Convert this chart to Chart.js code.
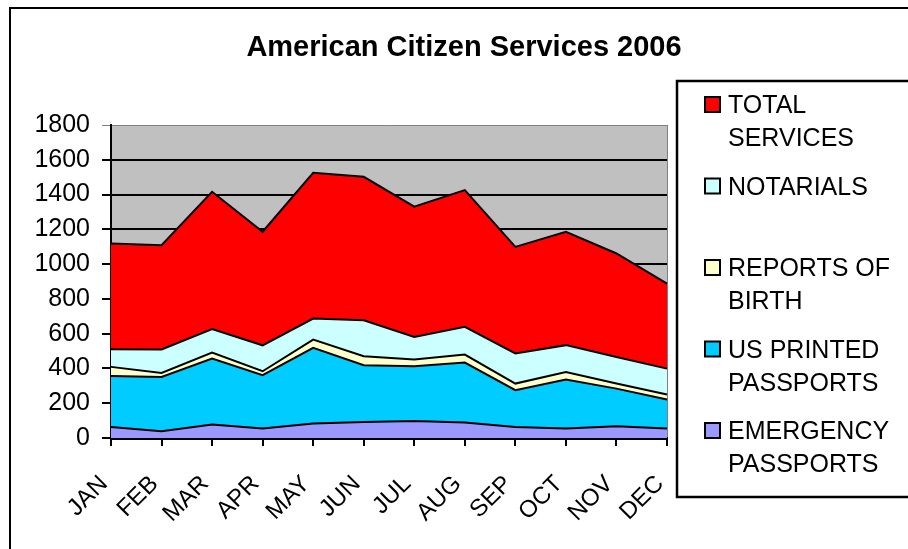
<!DOCTYPE html>
<html>
<head>
<meta charset="utf-8">
<title>American Citizen Services 2006</title>
<script src="https://cdn.jsdelivr.net/npm/chart.js@4.4.1/dist/chart.umd.min.js"></script>
<style>
  html, body { margin: 0; padding: 0; background: #fff; }
  #wrap { width: 908px; height: 549px; }
</style>
</head>
<body>
<div id="wrap"><canvas id="acsChart" width="908" height="549"></canvas></div>
<script>
// months along the bottom
const months = ['JAN', 'FEB', 'MAR', 'APR', 'MAY', 'JUN', 'JUL', 'AUG', 'SEP', 'OCT', 'NOV', 'DEC'];

// stacked layers, bottom to top (thickness of each band)
const emergencyPassports = [63, 39, 77, 54, 83, 92, 98, 89, 63, 54, 67, 54];
const usPrintedPassports = [294, 312, 380, 307, 435, 326, 315, 345, 212, 282, 217, 167];
const reportsOfBirth = [52, 23, 34, 23, 48, 52, 38, 46, 38, 44, 29, 29];
const notarials = [101, 135, 135, 149, 121, 207, 130, 159, 173, 154, 153, 149];
const totalServices = [609, 600, 790, 653, 838, 825, 749, 787, 613, 652, 595, 489];

const yTicks = [0, 200, 400, 600, 800, 1000, 1200, 1400, 1600, 1800];

(function(){
  'use strict';

  const FONT = '"Liberation Sans", Arial, sans-serif';

  // legend text, wrapped the way the original does it
  function band(label, lines, data, color, first) {
    return {
      label: label,
      legendLines: lines,
      data: data,
      backgroundColor: color,
      borderColor: '#000',
      borderWidth: 2,
      fill: first ? 'origin' : '-1',
      pointRadius: 0,
      pointHoverRadius: 0,
      tension: 0
    };
  }

  const datasets = [
    band('EMERGENCY PASSPORTS', ['EMERGENCY', 'PASSPORTS'], emergencyPassports, '#9999FF', true),
    band('US PRINTED PASSPORTS', ['US PRINTED', 'PASSPORTS'], usPrintedPassports, '#00CCFF'),
    band('REPORTS OF BIRTH', ['REPORTS OF', 'BIRTH'], reportsOfBirth, '#FFFFCC'),
    band('NOTARIALS', ['NOTARIALS'], notarials, '#CCFFFF'),
    band('TOTAL SERVICES', ['TOTAL', 'SERVICES'], totalServices, '#FF0000')
  ];

  // background, outer frame, title and legend box
  const framePlugin = {
    id: 'frame',
    beforeDraw(chart) {
      const { ctx, chartArea: a } = chart;
      ctx.save();
      ctx.fillStyle = '#fff';
      ctx.fillRect(0, 0, chart.width, chart.height);
      ctx.fillStyle = '#C0C0C0';
      ctx.fillRect(a.left, a.top, a.right - a.left, a.bottom - a.top);
      ctx.strokeStyle = '#808080';
      ctx.lineWidth = 1;
      ctx.beginPath();
      ctx.moveTo(a.right + 0.5, a.top);
      ctx.lineTo(a.right + 0.5, a.bottom);
      ctx.stroke();
      ctx.restore();
    },
    afterDraw(chart) {
      const ctx = chart.ctx;
      ctx.save();

      // outer chart border (right and bottom run off the page)
      ctx.strokeStyle = '#000';
      ctx.lineWidth = 2;
      ctx.strokeRect(10, 8, 920, 560);

      // title
      ctx.fillStyle = '#000';
      ctx.font = 'bold 29px ' + FONT;
      ctx.textAlign = 'center';
      ctx.textBaseline = 'alphabetic';
      ctx.fillText('American Citizen Services 2006', 464, 56);

      // legend box
      ctx.fillStyle = '#fff';
      ctx.fillRect(677, 81, 240, 416);
      ctx.lineWidth = 2.5;
      ctx.strokeStyle = '#000';
      ctx.strokeRect(677, 81, 240, 416);

      ctx.font = '25px ' + FONT;
      ctx.textAlign = 'left';
      const items = chart.data.datasets.slice().reverse();
      items.forEach(function(ds, i) {
        const base = 113 + i * 81.5;
        ctx.fillStyle = ds.backgroundColor;
        ctx.fillRect(705, base - 16, 15, 15);
        ctx.lineWidth = 2;
        ctx.strokeStyle = '#000';
        ctx.strokeRect(705, base - 16, 15, 15);
        ctx.fillStyle = '#000';
        ds.legendLines.forEach(function(line, j) {
          ctx.fillText(line, 728, base + j * 33);
        });
      });
      ctx.restore();
    }
  };

  const ctx = document.getElementById('acsChart');
  window.acsChart = new Chart(ctx, {
    type: 'line',
    data: { labels: months, datasets: datasets },
    options: {
      responsive: false,
      animation: false,
      devicePixelRatio: 1,
      layout: { padding: { left: 10, top: 125, right: 241, bottom: 0 } },
      plugins: {
        legend: { display: false },
        title: { display: false },
        tooltip: { enabled: false },
        filler: { propagate: false }
      },
      scales: {
        x: {
          offset: false,
          grid: {
            display: true,
            drawOnChartArea: false,
            drawTicks: true,
            tickLength: 8,
            color: '#000',
            lineWidth: 2
          },
          border: { display: true, color: '#000', width: 3 },
          ticks: {
            autoSkip: false,
            maxRotation: 45,
            minRotation: 45,
            padding: 24,
            labelOffset: -7,
            color: '#000',
            font: { family: FONT, size: 24 }
          },
          afterFit(scale) { scale.height = 111; }
        },
        y: {
          stacked: true,
          min: 0,
          max: 1800,
          afterBuildTicks(scale) {
            scale.ticks = yTicks.map(v => ({ value: v }));
          },
          grid: {
            drawTicks: true,
            tickLength: 9,
            color: c => (c.tick && c.tick.value === 1800) ? '#808080' : '#000',
            lineWidth: c => (c.tick && c.tick.value === 1800) ? 1 : 2
          },
          border: { display: true, color: '#000', width: 2 },
          ticks: {
            padding: 12,
            color: '#000',
            font: { family: FONT, size: 25 },
            callback: v => String(v)
          },
          afterFit(scale) { scale.width = 101; }
        }
      }
    },
    plugins: [framePlugin]
  });
})();
</script>
</body>
</html>
